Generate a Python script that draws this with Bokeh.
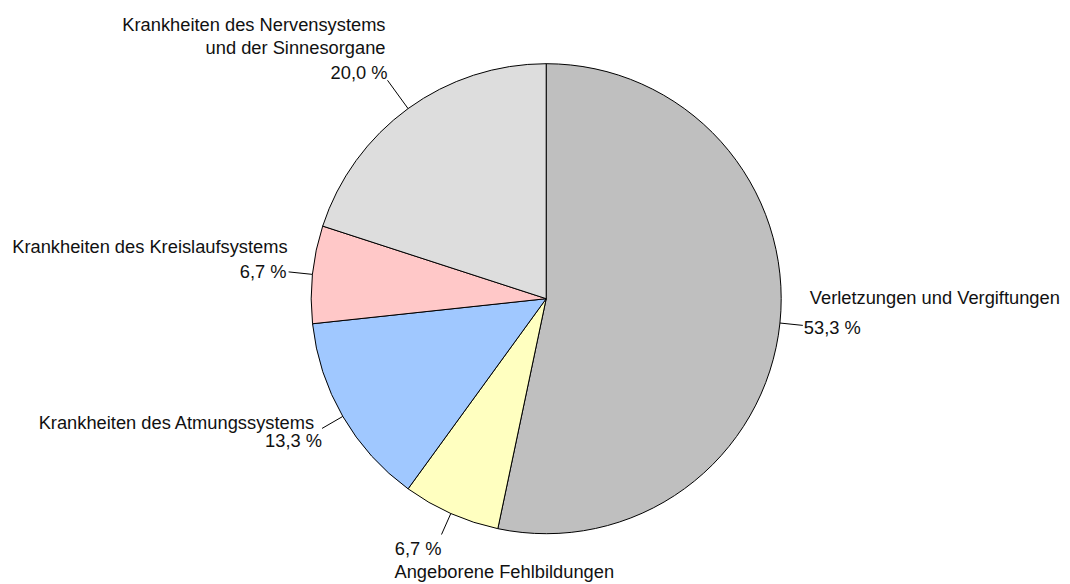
import numpy as np
from bokeh.plotting import figure
from bokeh.models import Range1d, ColumnDataSource
from bokeh.embed import file_html
from bokeh.resources import INLINE
from bokeh.core.properties import value

# ---- data ----
categories = [
    "Verletzungen und Vergiftungen",
    "Angeborene Fehlbildungen",
    "Krankheiten des Atmungssystems",
    "Krankheiten des Kreislaufsystems",
    "Krankheiten des Nervensystems\nund der Sinnesorgane",
]
shares = [53.3, 6.7, 13.3, 6.7, 20.0]
colors = ["#bfbfbf", "#ffffc0", "#a0c8ff", "#ffc8c8", "#dddddd"]

# ---- layout / style ----
W, H = 1070, 584
CX_PX, CY_PX, R = 545.7, 298.2, 235.0
leader_ext = [23, 23, 24, 24, 35]
# percent text baseline offset from leader end (screen px, +down), align
pct_off = [(1, 8, "left"), (0, 20, "right"), (0, 18, "right"), (-2, 6, "right"), (0, -2, "right")]
# name first-line baseline offset from leader end, align
name_off = [(7, -22, "left"), (-47, 43, "left"), (-7, 0, "right"), (-1, -19, "right"), (-2, -50, "right")]
LINE_H = 23
TEXT_SHIFT = 6  # renderer baseline correction (px, upward)

def to_data(px, py):
    return px, H - py

cx, cy = to_data(CX_PX, CY_PX)

vals = np.array(shares, dtype=float)
frac = vals / vals.sum()
cum = np.concatenate([[0], np.cumsum(frac)])
start = np.pi / 2 - 2 * np.pi * cum[:-1]
end = np.pi / 2 - 2 * np.pi * cum[1:]
mid = (start + end) / 2

p = figure(width=W, height=H, x_range=Range1d(0, W), y_range=Range1d(0, H),
           output_backend="svg", toolbar_location=None, min_border=0)
p.axis.visible = False
p.grid.visible = False
p.outline_line_color = None
p.background_fill_color = "white"

src = ColumnDataSource(dict(x=[cx] * len(vals), y=[cy] * len(vals), s=start, e=end, c=colors))
p.wedge(x="x", y="y", radius=R, start_angle="s", end_angle="e", direction="clock",
        fill_color="c", line_color="black", line_width=1, source=src)

x0 = cx + R * np.cos(mid)
y0 = cy + R * np.sin(mid)
ext = np.array(leader_ext, dtype=float)
x1 = cx + (R + ext) * np.cos(mid)
y1 = cy + (R + ext) * np.sin(mid)
p.segment(x0=x0, y0=y0, x1=x1, y1=y1, line_color="black", line_width=1)

pct_text = [f"{v:.1f} %".replace(".", ",") for v in shares]

tx = {"left": [], "right": []}
for i in range(len(vals)):
    dx, dy, al = pct_off[i]
    tx[al].append((x1[i] + dx, y1[i] - dy + TEXT_SHIFT, pct_text[i]))
    ndx, ndy, nal = name_off[i]
    for k, line in enumerate(categories[i].split("\n")):
        tx[nal].append((x1[i] + ndx, y1[i] - ndy - k * LINE_H + TEXT_SHIFT, line))

for al, items in tx.items():
    if not items:
        continue
    p.text(x=[a[0] for a in items], y=[a[1] for a in items], text=[a[2] for a in items],
           text_align=al, text_baseline="alphabetic", text_font=value("Liberation Sans"),
           text_font_size="18.3px", text_color="#111111")

open("out.html", "w").write(file_html(p, INLINE))
